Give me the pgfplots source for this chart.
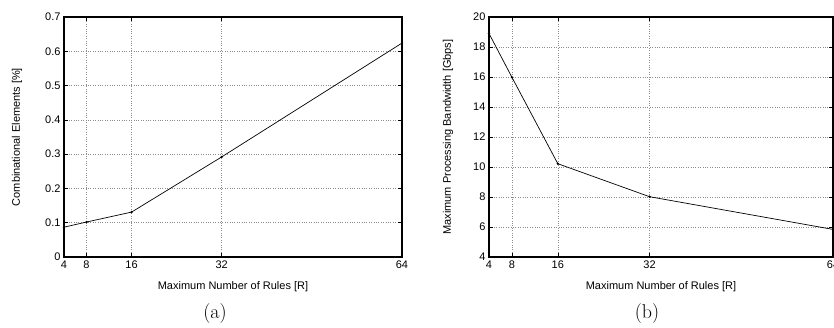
\documentclass[border=0pt]{standalone}
\usepackage{fontspec}
\usepackage{pgfplots}
\pgfplotsset{compat=1.18}
\newfontfamily\helv{Liberation Sans}
\begin{document}
\begin{tikzpicture}
\pgfplotsset{
  gp/.style={
    scale only axis, anchor=south west, height=240pt,
    xmin=4, xmax=64, xtick={4,8,16,32,64},
    axis line style={line width=1.2pt},
    tick style={black, line width=0.5pt},
    major tick length=4pt,
    tick align=inside,
    grid=major,
    major grid style={black!45, dotted, line width=0.6pt},
    /pgf/number format/assume math mode=true,
    tick label style={font=\helv\fontsize{11}{13}\selectfont},
    xlabel={Maximum Number of Rules [R]},
    every axis x label/.style={at={(axis description cs:0.5,-0.125)}, anchor=center, font=\helv\fontsize{11}{13}\selectfont},
  },
  gpline/.style={black, line width=0.7pt, mark=*, mark size=0.8pt, mark options={solid, fill=black}},
}
\begin{axis}[gp, at={(64pt,70pt)}, width=338pt,
  ymin=0, ymax=0.7, ytick={0,0.1,0.2,0.3,0.4,0.5,0.6,0.7},
  yticklabel style={/pgf/number format/fixed, /pgf/number format/precision=1},
  every axis y label/.style={at={(axis description cs:-0.139,0.5)}, rotate=90, anchor=center, font=\helv\fontsize{11}{13}\selectfont},
  ylabel={Combinational Elements [\%]}]
\addplot[gpline] coordinates {(4,0.087) (8,0.102) (16,0.131) (32,0.292) (64,0.624)};
\end{axis}
\begin{axis}[gp, at={(489pt,70pt)}, width=344pt,
  ymin=4, ymax=20, ytick={4,6,8,10,12,14,16,18,20},
  every axis y label/.style={at={(axis description cs:-0.119,0.5)}, rotate=90, anchor=center, font=\helv\fontsize{11}{13}\selectfont},
  ylabel={Maximum Processing Bandwidth [Gbps]}]
\addplot[gpline] coordinates {(4,18.9) (8,15.98) (16,10.22) (32,8.02) (64,5.84)};
\end{axis}
\node[font=\fontsize{20}{22}\selectfont] at (215pt,13pt) {(a)};
\node[font=\fontsize{20}{22}\selectfont] at (647pt,13pt) {(b)};
\pgfresetboundingbox
\useasboundingbox (0pt,0pt) rectangle (834pt,327pt);
\end{tikzpicture}
\end{document}
